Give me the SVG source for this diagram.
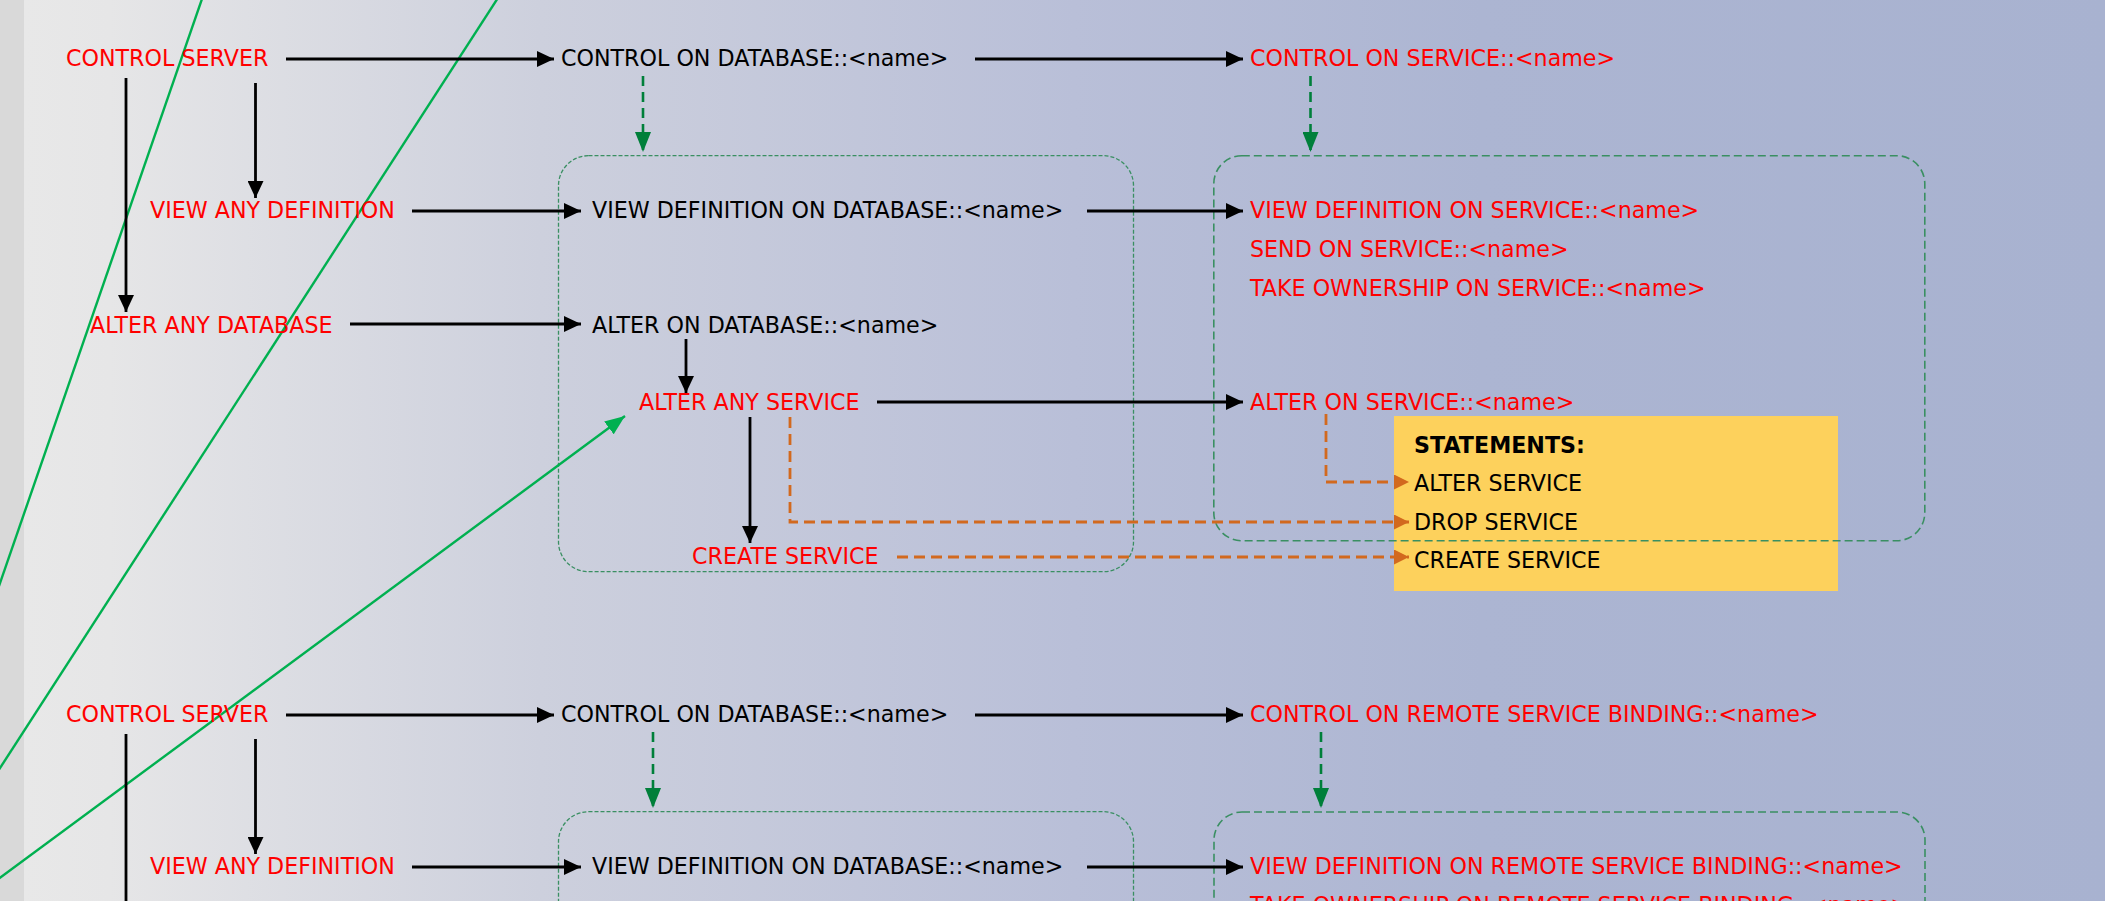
<svg xmlns="http://www.w3.org/2000/svg" width="2105" height="901" viewBox="0 0 2105 901">
<defs>
<linearGradient id="bg" gradientUnits="userSpaceOnUse" x1="24" y1="0" x2="2105" y2="0">
<stop offset="0" stop-color="#e8e8e8"/>
<stop offset="0.041" stop-color="#e6e6e7"/>
<stop offset="0.248" stop-color="#cdd0dd"/>
<stop offset="0.505" stop-color="#b9bfd8"/>
<stop offset="0.70" stop-color="#acb5d2"/>
<stop offset="1" stop-color="#a8b2d0"/>
</linearGradient>
<marker id="ab" markerUnits="userSpaceOnUse" markerWidth="17" markerHeight="16" refX="17" refY="8" orient="auto"><path d="M0,0 L17,8 L0,16 z" fill="#000"/></marker>
<marker id="ag" markerUnits="userSpaceOnUse" markerWidth="20" markerHeight="16" refX="20" refY="8" orient="auto"><path d="M0,0 L20,8 L0,16 z" fill="#007f3a"/></marker>
<marker id="as" markerUnits="userSpaceOnUse" markerWidth="20" markerHeight="16" refX="20" refY="8" orient="auto"><path d="M0,0 L20,8 L0,16 z" fill="#00b050"/></marker>
<marker id="ao" markerUnits="userSpaceOnUse" markerWidth="15" markerHeight="15" refX="15" refY="7.5" orient="auto"><path d="M0,0 L15,7.5 L0,15 z" fill="#d2691e"/></marker>
</defs>
<style>
text{font-family:"DejaVu Sans",Verdana,sans-serif;font-size:22.2px}
.r{fill:#ff0000}
.k{fill:#000}
.b{font-weight:bold}
.bx1{fill:none;stroke:#3a8f62;stroke-width:1.3;stroke-dasharray:4 2}
.bx2{fill:none;stroke:#3a8f62;stroke-width:1.6;stroke-dasharray:8 4}
.cb{fill:none;stroke:#000;stroke-width:2.8;marker-end:url(#ab)}
.cg{fill:none;stroke:#007f3a;stroke-width:2.6;stroke-dasharray:10 6;marker-end:url(#ag)}
.co{fill:none;stroke:#d2691e;stroke-width:2.8;stroke-dasharray:11 6;marker-end:url(#ao)}
.cs{fill:none;stroke:#00b050;stroke-width:2.4}
</style>
<rect x="0" y="0" width="2105" height="901" fill="#d9d9d9"/>
<rect x="24" y="0" width="2081" height="901" fill="url(#bg)"/>

<g id="statements">
<rect x="1394" y="416" width="444" height="175" fill="#fdd15c"/>
<text class="k b" x="1414" y="453">STATEMENTS:</text>
<text class="k" x="1414" y="491">ALTER SERVICE</text>
<text class="k" x="1414" y="530">DROP SERVICE</text>
<text class="k" x="1414" y="568">CREATE SERVICE</text>
</g>

<g id="db-scope-1"><rect class="bx1" x="558.5" y="155.7" width="575" height="416" rx="30" ry="30"/></g>
<g id="svc-scope-1"><rect class="bx2" x="1213.8" y="155.7" width="711" height="385" rx="28" ry="28"/></g>
<g id="db-scope-2"><rect class="bx1" x="558.5" y="811.7" width="575" height="300" rx="30" ry="30"/></g>
<g id="rsb-scope-2"><rect class="bx2" x="1214" y="812" width="711" height="300" rx="28" ry="28"/></g>

<g id="connectors">
<path class="cs" d="M212,-30 L-20,641"/>
<path class="cs" d="M516,-30 L-20,799"/>
<path class="cs" d="M-30,900 L625,416" marker-end="url(#as)"/>

<path class="cb" d="M286,59 H554"/>
<path class="cb" d="M975,59 H1243"/>
<path class="cb" d="M255.5,83 V198"/>
<path class="cb" d="M126,78 V312"/>
<path class="cb" d="M412,211 H581"/>
<path class="cb" d="M1087,211 H1243"/>
<path class="cb" d="M350,324 H581"/>
<path class="cb" d="M686,339 V393"/>
<path class="cb" d="M877,402 H1243"/>
<path class="cb" d="M750,417 V543"/>
<path class="cg" d="M643,76 V152"/>
<path class="cg" d="M1310.5,76 V152"/>
<path class="co" d="M790,417 V522 H1409"/>
<path class="co" d="M897,557 H1409"/>
<path class="co" d="M1326,414 V482 H1409"/>

<path class="cb" d="M286,715 H554"/>
<path class="cb" d="M975,715 H1243"/>
<path class="cb" d="M255.5,739 V854"/>
<path class="cb" d="M126,734 V968"/>
<path class="cb" d="M412,867 H581"/>
<path class="cb" d="M1087,867 H1243"/>
<path class="cg" d="M653,732 V808"/>
<path class="cg" d="M1321,732 V808"/>
</g>

<g id="control-server-1"><text class="r" x="66" y="66">CONTROL SERVER</text></g>
<g id="control-db-1"><text class="k" x="561" y="66">CONTROL ON DATABASE::&lt;name&gt;</text></g>
<g id="control-svc"><text class="r" x="1250" y="66">CONTROL ON SERVICE::&lt;name&gt;</text></g>
<g id="view-any-def-1"><text class="r" x="150" y="218">VIEW ANY DEFINITION</text></g>
<g id="view-def-db-1"><text class="k" x="592" y="218">VIEW DEFINITION ON DATABASE::&lt;name&gt;</text></g>
<g id="view-def-svc">
<text class="r" x="1250" y="218">VIEW DEFINITION ON SERVICE::&lt;name&gt;</text>
<text class="r" x="1250" y="257">SEND ON SERVICE::&lt;name&gt;</text>
<text class="r" x="1250" y="296">TAKE OWNERSHIP ON SERVICE::&lt;name&gt;</text>
</g>
<g id="alter-any-db-1"><text class="r" x="90" y="333">ALTER ANY DATABASE</text></g>
<g id="alter-db-1"><text class="k" x="592" y="333">ALTER ON DATABASE::&lt;name&gt;</text></g>
<g id="alter-any-svc"><text class="r" x="639" y="410">ALTER ANY SERVICE</text></g>
<g id="alter-svc"><text class="r" x="1250" y="410">ALTER ON SERVICE::&lt;name&gt;</text></g>
<g id="create-svc"><text class="r" x="692" y="564">CREATE SERVICE</text></g>

<g id="control-server-2"><text class="r" x="66" y="722">CONTROL SERVER</text></g>
<g id="control-db-2"><text class="k" x="561" y="722">CONTROL ON DATABASE::&lt;name&gt;</text></g>
<g id="control-rsb"><text class="r" x="1250" y="722">CONTROL ON REMOTE SERVICE BINDING::&lt;name&gt;</text></g>
<g id="view-any-def-2"><text class="r" x="150" y="874">VIEW ANY DEFINITION</text></g>
<g id="view-def-db-2"><text class="k" x="592" y="874">VIEW DEFINITION ON DATABASE::&lt;name&gt;</text></g>
<g id="view-def-rsb">
<text class="r" x="1250" y="874">VIEW DEFINITION ON REMOTE SERVICE BINDING::&lt;name&gt;</text>
<text class="r" x="1250" y="913">TAKE OWNERSHIP ON REMOTE SERVICE BINDING::&lt;name&gt;</text>
</g>
</svg>
